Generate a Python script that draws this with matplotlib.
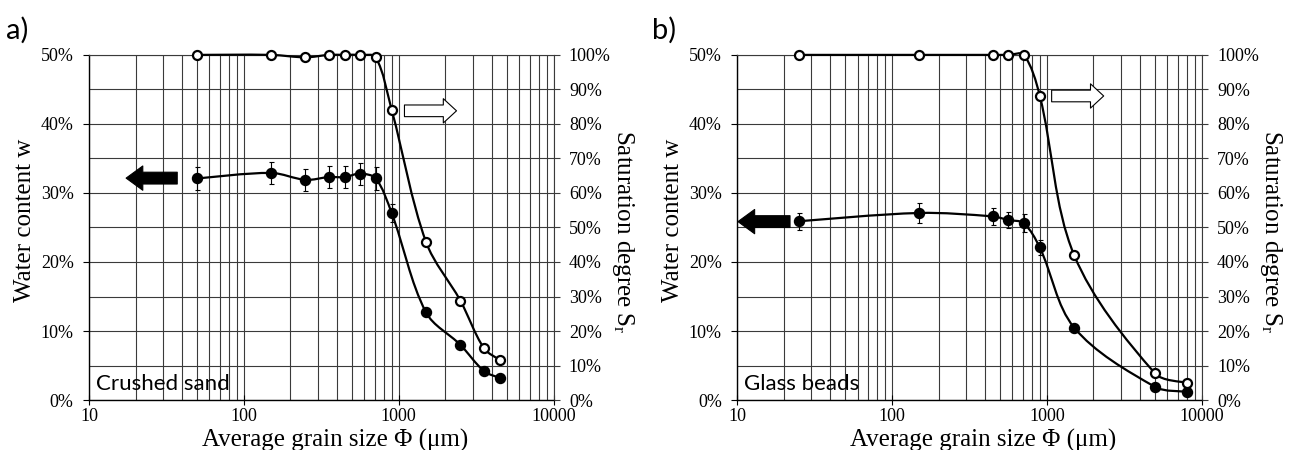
import numpy as np
import matplotlib
matplotlib.use("Agg")
import matplotlib.pyplot as plt
from matplotlib.path import Path
from matplotlib.patches import PathPatch, FancyArrowPatch, ArrowStyle
from matplotlib.ticker import PercentFormatter, FixedLocator, NullFormatter

plt.rcParams['font.family'] = ['Liberation Serif', 'DejaVu Serif']
plt.rcParams['mathtext.fontset'] = 'custom'
plt.rcParams['mathtext.rm'] = 'Liberation Serif'
plt.rcParams['mathtext.it'] = 'Liberation Serif:italic'

# ---- data ----
# a) crushed sand
sand_d = [50, 150, 250, 355, 450, 560, 710, 900, 1500, 2500, 3550, 4500]
sand_w = [32.1, 32.9, 31.9, 32.3, 32.3, 32.8, 32.1, 27.1, 12.7, 8.0, 4.2, 3.2]
sand_w_err = [1.6, 1.6, 1.6, 1.6, 1.6, 1.6, 1.6, 1.3, 0.5, 0.4, 0.3, 0.3]
sand_sr = [100, 100, 99.3, 100, 100, 100, 99.3, 84.1, 45.8, 28.8, 15.0, 11.6]

# b) glass beads
glass_d = [25, 150, 450, 560, 710, 900, 1500, 5000, 8000]
glass_w = [25.9, 27.1, 26.6, 26.1, 25.6, 22.1, 10.5, 1.9, 1.2]
glass_w_err = [1.2, 1.4, 1.2, 1.2, 1.3, 1.1, 0.4, 0.2, 0.2]
glass_sr = [100, 100, 100, 100, 100, 88.2, 42.0, 7.7, 5.0]

x_ticks = [10, 100, 1000, 10000]
x_tick_labels = ['10', '100', '1000', '10000']
w_ticks = [0, 10, 20, 30, 40, 50]
sr_ticks = [0, 10, 20, 30, 40, 50, 60, 70, 80, 90, 100]

GRID = '#3a3a3a'
PX_DECADE = 155.0   # approx. screen pixels per decade, used only for smoothing weights


def smooth_path(x, y, px_per_unit):
    """Excel-like smoothed line: cubic Bezier through the points, built in log-x space,
    tangent arms weighted by the neighbouring segment lengths on screen."""
    lx = np.log10(np.asarray(x, float))
    y = np.asarray(y, float)
    n = len(lx)
    P = np.column_stack([lx * PX_DECADE, y * px_per_unit])
    out_c, in_c = [], []
    for i in range(n):
        if i == 0 or i == n - 1:
            T = (P[1] - P[0]) if i == 0 else (P[-1] - P[-2])
            out_c.append(P[i] + T / 6)
            in_c.append(P[i] - T / 6)
            continue
        T = P[i + 1] - P[i - 1]
        dp = np.hypot(*(P[i] - P[i - 1]))
        dn = np.hypot(*(P[i + 1] - P[i]))
        out_c.append(P[i] + T * dn / (dp + dn) / 3)
        in_c.append(P[i] - T * dp / (dp + dn) / 3)

    def back(p):
        return (10 ** (p[0] / PX_DECADE), p[1] / px_per_unit)

    verts = [(x[0], y[0])]
    codes = [Path.MOVETO]
    for i in range(n - 1):
        verts += [back(out_c[i]), back(in_c[i + 1]), (x[i + 1], y[i + 1])]
        codes += [Path.CURVE4] * 3
    return Path(verts, codes)


def draw_arrow(ax, tail, tip, head_len, head_w, tail_w, color):
    style = ArrowStyle.Simple(head_length=head_len, head_width=head_w, tail_width=tail_w)
    arr = FancyArrowPatch(tail, tip, arrowstyle=style, mutation_scale=1,
                          transform=ax.transAxes, fc=color, ec='black', lw=0.8,
                          shrinkA=0, shrinkB=0, zorder=6, clip_on=False)
    ax.add_patch(arr)


def panel(left, d, w, w_err, sr, name, letter, letter_x, arrows):
    ax = fig.add_axes([left, 0.111, 0.3605, 0.767])
    ax.set_xscale('log')
    ax.set_xlim(10, 10000)
    ax.set_ylim(0, 50)

    # grid: decades + 2..9, and every 5 %
    ax.xaxis.set_major_locator(FixedLocator(x_ticks))
    ax.set_xticklabels(x_tick_labels)
    ax.xaxis.set_minor_locator(FixedLocator([k * 10 ** e for e in (1, 2, 3) for k in range(2, 10)]))
    ax.xaxis.set_minor_formatter(NullFormatter())
    ax.set_yticks(w_ticks)
    ax.set_yticks([5, 15, 25, 35, 45], minor=True)
    ax.yaxis.set_major_formatter(PercentFormatter(decimals=0))
    ax.grid(True, which='both', color=GRID, lw=0.8)
    ax.set_axisbelow(True)
    ax.tick_params(which='minor', length=0)
    ax.tick_params(axis='y', which='major', direction='out', length=4, width=0.8, labelsize=13, pad=7)
    ax.tick_params(axis='x', which='major', direction='inout', length=7, width=0.8, labelsize=13, pad=2)
    for s in ('top', 'right'):
        ax.spines[s].set_color(GRID)
        ax.spines[s].set_linewidth(0.8)
    for s in ('left', 'bottom'):
        ax.spines[s].set_linewidth(1.0)

    ax2 = ax.twinx()
    ax2.set_ylim(0, 100)
    ax2.set_yticks(sr_ticks)
    ax2.yaxis.set_major_formatter(PercentFormatter(decimals=0))
    ax2.tick_params(axis='y', direction='out', length=4, width=0.8, labelsize=13, pad=7, color=GRID)
    for s in ax2.spines.values():
        s.set_visible(False)

    # water content (left axis): 345 px for 50 %
    ax.add_patch(PathPatch(smooth_path(d, w, 6.9), fill=False, ec='black', lw=1.6,
                           zorder=3, clip_on=False))
    ax.errorbar(d, w, yerr=w_err, fmt='o', ms=7.2, color='black', ecolor='black',
                elinewidth=0.8, capsize=1.8, capthick=0.8, zorder=4, clip_on=False)

    # saturation degree (right axis): 345 px for 100 %
    ax2.add_patch(PathPatch(smooth_path(d, sr, 3.45), fill=False, ec='black', lw=1.6,
                            zorder=3, clip_on=False))
    ax2.plot(d, sr, 'o', ms=6.5, mfc='white', mec='black', mew=1.6, zorder=4, clip_on=False)

    ax.set_xlabel('Average grain size Φ (μm)', fontsize=18, va='top')
    ax.xaxis.set_label_coords(0.529, -0.083)
    ax.set_ylabel('Water content w', fontsize=18, va='center')
    ax.yaxis.set_label_coords(-0.138, 0.522)
    ax2.set_ylabel(r'Saturation degree S$_\mathrm{r}$', fontsize=18, rotation=270, va='center')
    ax2.yaxis.set_label_coords(1.149, 0.487)

    ax.text(0.015, 0.028, name, transform=ax.transAxes, fontsize=16,
            family=['Lato', 'DejaVu Sans'], va='baseline', ha='left', zorder=7)
    fig.text(letter_x, 0.915, letter, fontsize=21, family=['Lato', 'DejaVu Sans'], va='baseline')

    (bt, bh), (wt, wh) = arrows
    draw_arrow(ax, bt, bh, 12, 17.5, 8.5, 'black')
    draw_arrow(ax2, wt, wh, 9.5, 17.5, 8.4, 'white')
    return ax, ax2


fig = plt.figure(figsize=(12.89, 4.5), dpi=100)

panel(0.069, sand_d, sand_w, sand_w_err, sand_sr, 'Crushed sand', 'a)', 0.005,
      [((0.190, 0.643), (0.080, 0.643)), ((0.679, 0.838), (0.791, 0.838))])
panel(0.5718, glass_d, glass_w, glass_w_err, glass_sr, 'Glass beads', 'b)', 0.506,
      [((0.114, 0.517), (0.002, 0.517)), ((0.677, 0.881), (0.789, 0.881))])

fig.savefig('out.png', dpi=100)
